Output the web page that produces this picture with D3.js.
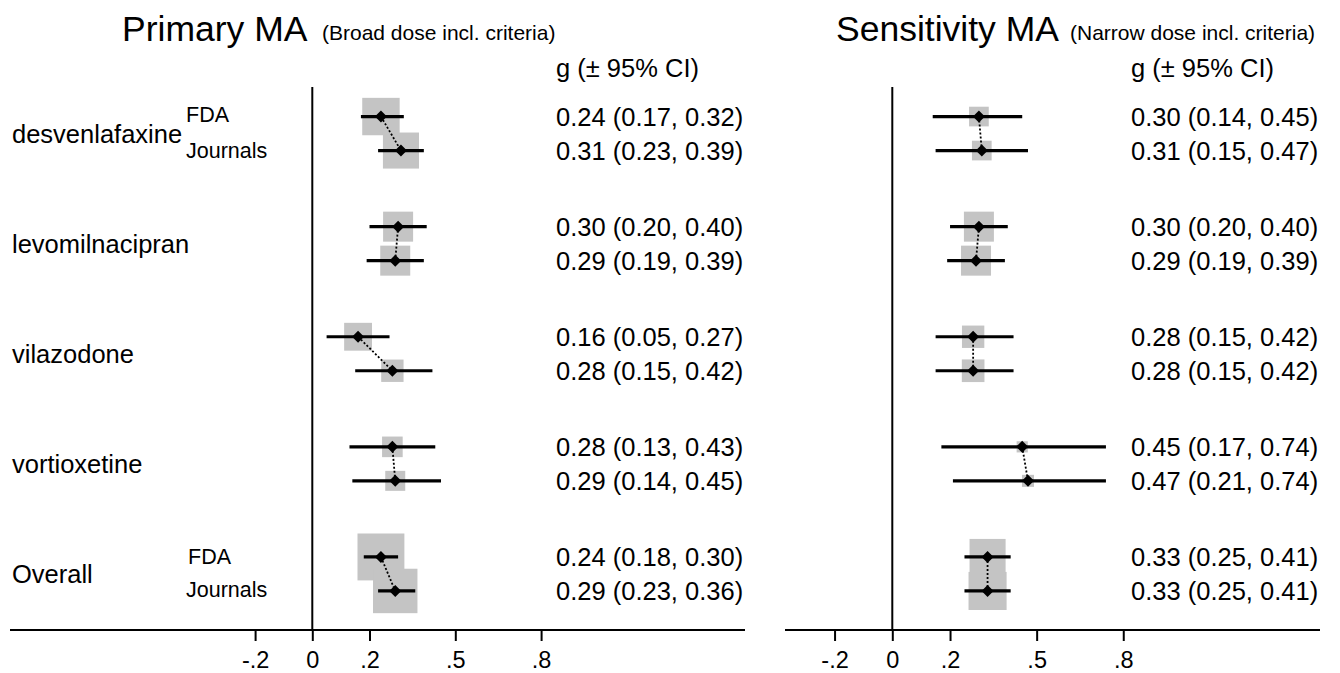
<!DOCTYPE html>
<html>
<head>
<meta charset="utf-8">
<script src="https://cdn.jsdelivr.net/npm/d3@7"></script>
<style>
  html, body { margin: 0; padding: 0; background: #fff; }
  svg { display: block; font-family: "Liberation Sans", Arial, Helvetica, sans-serif; }
</style>
</head>
<body>
<svg id="chart" width="1340" height="673"></svg>
<script>
// ---------- DATA ----------
const groups = ["desvenlafaxine", "levomilnacipran", "vilazodone", "vortioxetine", "Overall"];
const sources = ["FDA", "Journals"];

// rows ordered: each group -> FDA, Journals
const primaryEst = [0.24, 0.31, 0.30, 0.29, 0.16, 0.28, 0.28, 0.29, 0.24, 0.29];
const primaryLo  = [0.17, 0.23, 0.20, 0.19, 0.05, 0.15, 0.13, 0.14, 0.18, 0.23];
const primaryHi  = [0.32, 0.39, 0.40, 0.39, 0.27, 0.42, 0.43, 0.45, 0.30, 0.36];
const primaryWeight = [56, 52, 36, 36, 31, 20, 17, 16, 88, 79];

const sensEst = [0.30, 0.31, 0.30, 0.29, 0.28, 0.28, 0.45, 0.47, 0.33, 0.33];
const sensLo  = [0.14, 0.15, 0.20, 0.19, 0.15, 0.15, 0.17, 0.21, 0.25, 0.25];
const sensHi  = [0.45, 0.47, 0.40, 0.39, 0.42, 0.42, 0.74, 0.74, 0.41, 0.41];
const sensWeight = [15.5, 15.5, 36, 36, 20, 20.5, 5, 5.8, 52, 58];

const xTicks = [-0.2, 0, 0.2, 0.5, 0.8];
const xTickLabels = ["-.2", "0", ".2", ".5", ".8"];

const panelTitles = ["Primary MA", "Sensitivity MA"];
const panelSubtitles = ["(Broad dose incl. criteria)", "(Narrow dose incl. criteria)"];
const colHeader = "g (\u00B1 95% CI)";

// ---------- LAYOUT ----------
const svg = d3.select("#chart");
const fmt = d3.format(".2f");
const gray = "#c4c4c4";
const axisY = 630;

const yGroup = d3.scaleBand().domain(groups).range([78.5, 629]);
const ySub = d3.scalePoint().domain(sources).range([-17, 17]);
const sizeScale = d3.scaleSqrt().domain([0, 100]).range([0, 50]);

function rows(est, lo, hi, w) {
  const out = [];
  groups.forEach((g, gi) => sources.forEach((s, si) => {
    const i = gi * 2 + si;
    out.push({ g, s, est: est[i], lo: lo[i], hi: hi[i], w: w[i],
               y: yGroup(g) + yGroup.bandwidth() / 2 + ySub(s) });
  }));
  return out;
}

const panels = [
  { x: d3.scaleLinear().domain([0, 1]).range([312.3, 598.3]),
    data: rows(primaryEst, primaryLo, primaryHi, primaryWeight),
    axisExtent: [10, 745], textX: 556, titleX: 122, subX: 322 },
  { x: d3.scaleLinear().domain([0, 1]).range([892.3, 1181]),
    data: rows(sensEst, sensLo, sensHi, sensWeight),
    axisExtent: [785, 1320], textX: 1131, titleX: 836, subX: 1070 }
];

panels.forEach((p, pi) => {
  const g = svg.append("g");
  const x = p.x;

  // title
  g.append("text").attr("x", p.titleX).attr("y", 41)
    .attr("font-size", 35.5).attr("fill", "#000").text(panelTitles[pi]);
  g.append("text").attr("x", p.subX).attr("y", 40)
    .attr("font-size", 21).attr("fill", "#000").text(panelSubtitles[pi]);
  g.append("text").attr("x", p.textX).attr("y", 77)
    .attr("font-size", 25.5).attr("fill", "#000").text(colHeader);

  // vertical zero line
  g.append("line").attr("x1", x(0)).attr("x2", x(0))
    .attr("y1", 87).attr("y2", axisY)
    .attr("stroke", "#000").attr("stroke-width", 2);

  // squares
  g.selectAll("rect.w").data(p.data).join("rect").attr("class", "w")
    .attr("x", d => x(d.est) - sizeScale(d.w) / 2)
    .attr("y", d => d.y - sizeScale(d.w) / 2)
    .attr("width", d => sizeScale(d.w))
    .attr("height", d => sizeScale(d.w))
    .attr("fill", gray);

  // CI lines
  g.selectAll("line.ci").data(p.data).join("line").attr("class", "ci")
    .attr("x1", d => x(d.lo)).attr("x2", d => x(d.hi))
    .attr("y1", d => d.y).attr("y2", d => d.y)
    .attr("stroke", "#000").attr("stroke-width", 3.2);

  // connectors
  groups.forEach((gr, gi) => {
    const a = p.data[gi * 2], b = p.data[gi * 2 + 1];
    g.append("line")
      .attr("x1", x(a.est)).attr("y1", a.y)
      .attr("x2", x(b.est)).attr("y2", b.y)
      .attr("stroke", "#000").attr("stroke-width", 1.8)
      .attr("stroke-dasharray", "2,2");
  });

  // diamonds
  g.selectAll("path.pt").data(p.data).join("path").attr("class", "pt")
    .attr("d", d3.symbol().type(d3.symbolSquare).size(72))
    .attr("transform", d => `translate(${x(d.est)},${d.y}) rotate(45)`)
    .attr("fill", "#000");

  // value labels
  g.selectAll("text.val").data(p.data).join("text").attr("class", "val")
    .attr("x", p.textX).attr("y", d => d.y + 9.5)
    .attr("font-size", 25.5).attr("fill", "#000")
    .text(d => `${fmt(d.est)} (${fmt(d.lo)}, ${fmt(d.hi)})`);

  // axis
  const ax = g.append("g").attr("transform", `translate(0,${axisY})`)
    .call(d3.axisBottom(x).tickValues(xTicks)
      .tickFormat((d, i) => xTickLabels[i]).tickSize(11).tickPadding(10.3));
  ax.select(".domain").remove();
  ax.selectAll(".tick line").attr("stroke", "#000").attr("stroke-width", 2);
  ax.selectAll(".tick text").attr("font-size", 23.5).attr("fill", "#000")
    .attr("font-family", "'Liberation Sans', Arial, Helvetica, sans-serif");
  g.append("line").attr("x1", p.axisExtent[0]).attr("x2", p.axisExtent[1])
    .attr("y1", axisY).attr("y2", axisY)
    .attr("stroke", "#000").attr("stroke-width", 2);
});

// row labels (left panel only)
const labelG = svg.append("g").attr("font-size", 25.5).attr("fill", "#000");
labelG.selectAll("text.grp").data(groups).join("text").attr("class", "grp")
  .attr("x", 12)
  .attr("y", d => yGroup(d) + yGroup.bandwidth() / 2 + 9)
  .text(d => d);

// source sub-labels on first and last groups
const subLabels = [
  { g: groups[0], s: sources[0], x: 186, dy: 5 },
  { g: groups[0], s: sources[1], x: 186, dy: 7 },
  { g: groups[4], s: sources[0], x: 188, dy: 7 },
  { g: groups[4], s: sources[1], x: 186, dy: 6 }
];
svg.append("g").selectAll("text").data(subLabels).join("text")
  .attr("x", d => d.x)
  .attr("y", d => yGroup(d.g) + yGroup.bandwidth() / 2 + ySub(d.s) + d.dy)
  .attr("font-size", 21.5).attr("fill", "#000")
  .text(d => d.s);
</script>
</body>
</html>
